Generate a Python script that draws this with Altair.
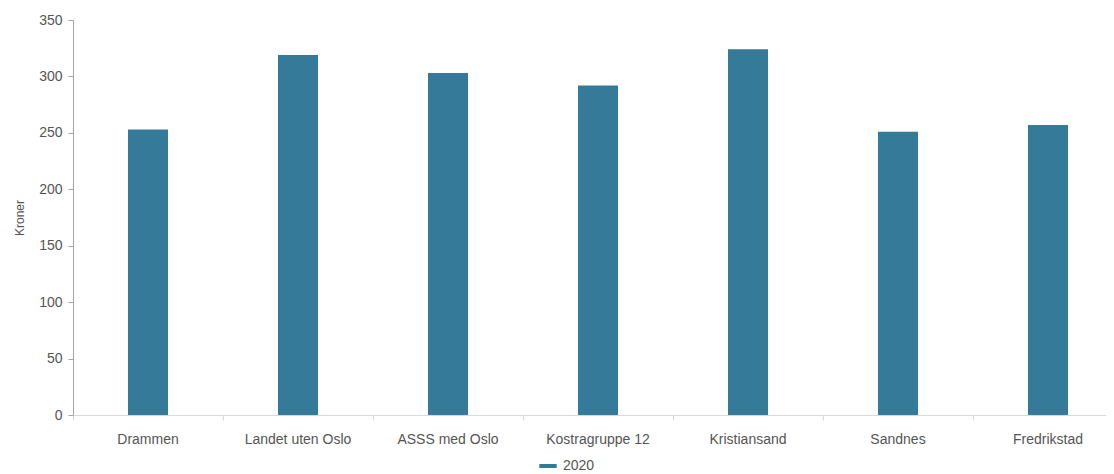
import altair as alt
import pandas as pd

categories = ["Drammen", "Landet uten Oslo", "ASSS med Oslo", "Kostragruppe 12",
              "Kristiansand", "Sandnes", "Fredrikstad"]
values_2020 = [253, 319, 303, 292, 324, 251, 257]
series = ["2020"] * len(categories)

df = pd.DataFrame({"kommune": categories, "kroner": values_2020, "aar": series})

FONT = "Liberation Sans"
BAR = "#357a98"

chart = alt.Chart(df).mark_bar(size=40, color=BAR).encode(
    x=alt.X("kommune:N", sort=categories, title=None,
            scale=alt.Scale(paddingInner=0, paddingOuter=0, range=[0, 1050]),
            axis=alt.Axis(labelAngle=0, labelFontSize=14, labelColor="#555555",
                          labelFont=FONT, labelPadding=12, tickSize=5,
                          bandPosition=0, domainColor="#d9d9d9", tickColor="#d9d9d9",
                          grid=False)),
    y=alt.Y("kroner:Q", title="Kroner",
            scale=alt.Scale(domain=[0, 350], nice=False),
            axis=alt.Axis(values=list(range(0, 351, 50)), labelFontSize=14,
                          labelColor="#555555", labelFont=FONT, labelPadding=6,
                          tickSize=5, domainColor="#a6a6a6", tickColor="#a6a6a6",
                          grid=False, titleFont=FONT, titleFontSize=12,
                          titleFontWeight="normal", titleColor="#555555",
                          titlePadding=12)),
    color=alt.Color("aar:N", title=None,
                    scale=alt.Scale(range=[BAR]),
                    legend=alt.Legend(orient="none", legendX=464, legendY=435,
                                      symbolType="stroke", symbolStrokeWidth=4,
                                      symbolStrokeColor=BAR, symbolFillColor=BAR,
                                      symbolSize=300, labelFontSize=14,
                                      labelFont=FONT, labelColor="#555555")),
).properties(
    width=1033, height=395,
    autosize=alt.AutoSizeParams(type="none"),
    padding={"left": 65, "top": 12, "right": 0, "bottom": 59},
).configure_view(stroke=None)

chart.save("out.html", embed_options={"renderer": "svg", "actions": False})
